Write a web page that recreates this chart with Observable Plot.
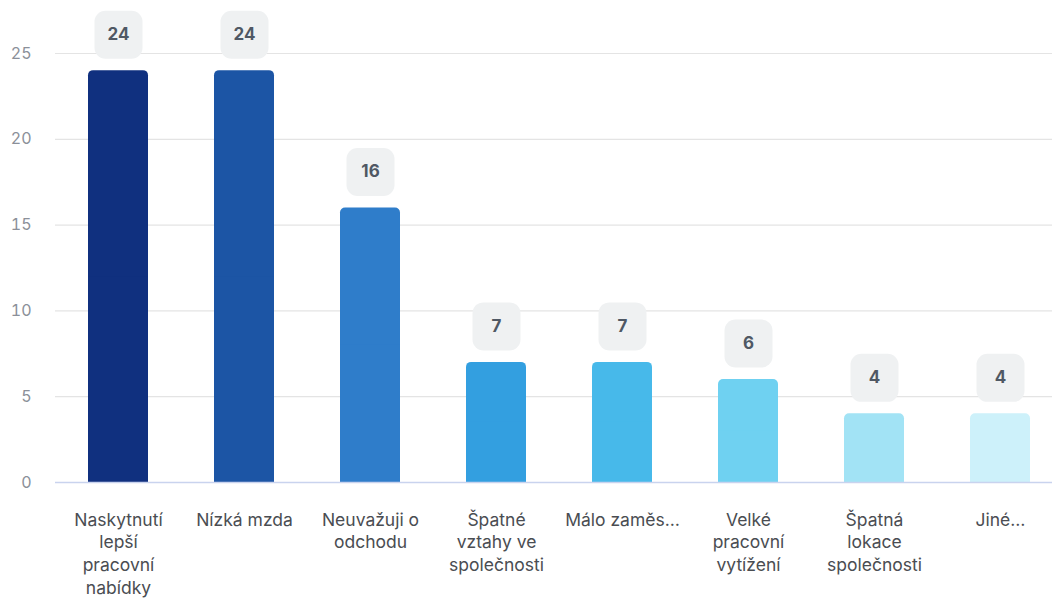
<!DOCTYPE html>
<html>
<head>
<meta charset="utf-8">
<script src="https://cdn.jsdelivr.net/npm/d3@7"></script>
<script src="https://cdn.jsdelivr.net/npm/@observablehq/plot@0.6"></script>
<style>
  html, body { margin: 0; padding: 0; background: #fff; }
  #chart svg { display: block; }
</style>
</head>
<body>
<div id="chart"></div>
<script>
const categories = ["Naskytnutí lepší pracovní nabídky", "Nízká mzda", "Neuvažuji o odchodu", "Špatné vztahy ve společnosti", "Málo zaměstnaneckých benefitů", "Velké pracovní vytížení", "Špatná lokace společnosti", "Jiné"];
const tickLabels = ["Naskytnutí\nlepší\npracovní\nnabídky", "Nízká mzda", "Neuvažuji o\nodchodu", "Špatné\nvztahy ve\nspolečnosti", "Málo zaměs…", "Velké\npracovní\nvytížení", "Špatná\nlokace\nspolečnosti", "Jiné…"];
const values = [24, 24, 16, 7, 7, 6, 4, 4];
const colors = ["#10307f", "#1c55a5", "#2f7dca", "#339fe0", "#47b9ea", "#6fd1f1", "#a2e3f5", "#cdf1fa"];
const yTicks = [0, 5, 10, 15, 20, 25];

const data = categories.map((c, i) => ({category: c, value: values[i]}));
const labelOf = new Map(categories.map((c, i) => [c, tickLabels[i]]));

const roundedSquare = {
  draw(context, size) {
    const h = Math.sqrt(size / Math.PI);
    const r = 11;
    context.moveTo(-h + r, -h);
    context.arcTo(h, -h, h, h, r);
    context.arcTo(h, h, -h, h, r);
    context.arcTo(-h, h, -h, -h, r);
    context.arcTo(-h, -h, h, -h, r);
    context.closePath();
  }
};

const chart = Plot.plot({
  width: 1052,
  height: 599,
  marginLeft: 55,
  marginRight: 0,
  marginTop: 53,
  marginBottom: 117,
  style: {fontFamily: "Inter, sans-serif", background: "#fff"},
  x: {type: "band", domain: categories, range: [55, 1063], paddingInner: 0.524, paddingOuter: 0.262, align: 0.5},
  y: {domain: [0, 25]},
  color: {domain: categories, range: colors},
  marks: [
    Plot.gridY(yTicks, {stroke: "#e4e4e4", strokeOpacity: 1, strokeWidth: 1.2}),
    Plot.axisY(yTicks, {tickSize: 0, tickPadding: 24, fontSize: 16, fill: "#8b9099", label: null}),
    Plot.axisX({tickSize: 0, tickPadding: 27, fontSize: 17.5, lineHeight: 1.3, fill: "#4a4d52", label: null, tickFormat: d => labelOf.get(d)}),
    Plot.barY(data, {x: "category", y: "value", fill: "category", rx: 5}),
    Plot.barY(data, {x: "category", y1: 0, y2: d => d.value / 2, fill: "category"}),
    Plot.ruleY([0], {stroke: "#c9d3ee", strokeWidth: 1.5}),
    Plot.dot(data, {x: "category", y: "value", dy: -36, r: 24, symbol: roundedSquare, fill: "#eff1f2", stroke: null}),
    Plot.text(data, {x: "category", y: "value", dy: -36, text: d => String(d.value), fontSize: 17, fontWeight: "bold", fill: "#4f5864"})
  ]
});
document.getElementById("chart").appendChild(chart);
</script>
</body>
</html>
